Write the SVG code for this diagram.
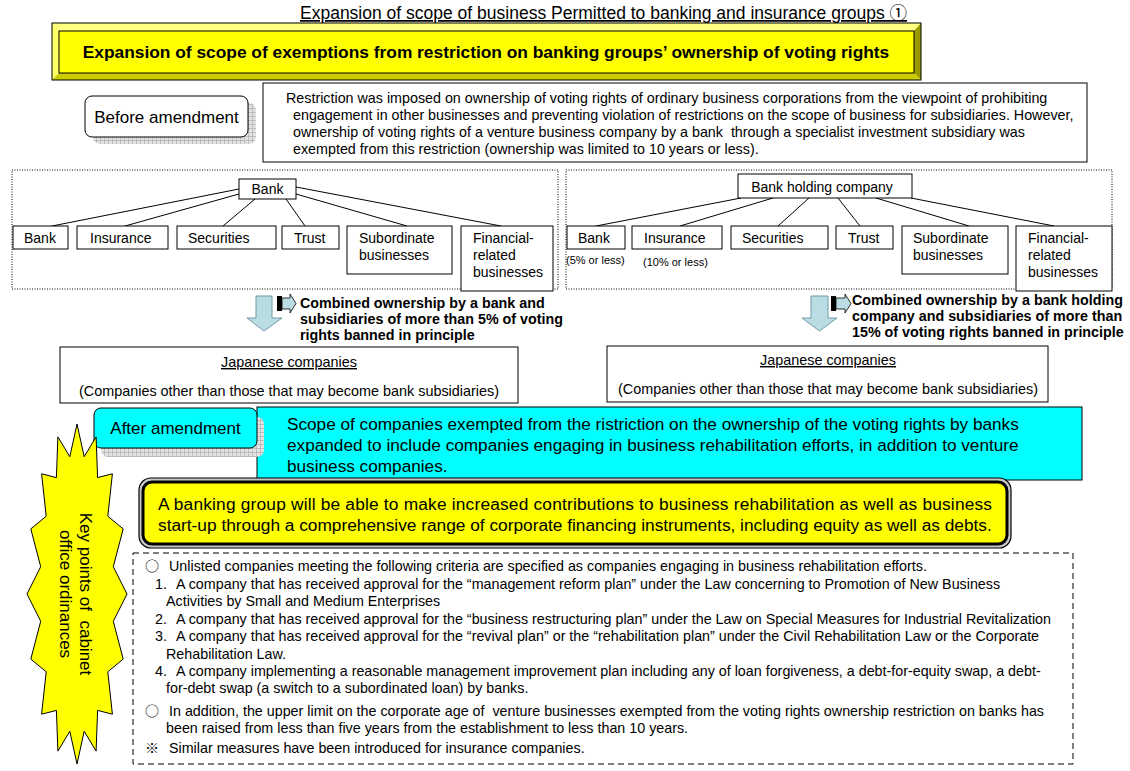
<svg xmlns="http://www.w3.org/2000/svg" width="1130" height="771" viewBox="0 0 1130 771">
<defs>
<style>
.t{font-family:"Liberation Sans",Arial,"Noto Sans CJK JP",sans-serif;fill:#000}
.s14{font-size:14px}
.s143{font-size:14.3px}
.s17{font-size:17.2px}
.b{font-weight:bold}
.m{text-anchor:middle}
.jp{font-size:14.4px}
.sym{font-family:"Noto Sans CJK JP","DejaVu Sans",sans-serif;font-size:14px;fill:#000}
.box{fill:#fff;stroke:#000;stroke-width:1}
.dot{fill:none;stroke:#000;stroke-width:1;stroke-dasharray:1 1.5}
.dash{fill:none;stroke:#000;stroke-width:1;stroke-dasharray:6 4}
.ln{stroke:#000;stroke-width:1;fill:none}
.barrow{fill:#b9dde3;stroke:#6e9aa6;stroke-width:1}
</style>
<pattern id="grid" width="4" height="4" patternUnits="userSpaceOnUse"><rect width="4" height="4" fill="#e2e2e2"/><path d="M0 0H4M0 0V4" stroke="#8c8c8c" stroke-width="0.8"/></pattern>
</defs>
<rect width="1130" height="771" fill="#fff"/>

<g id="title">
<text class="t" font-size="17.5" x="300" y="19" text-decoration="underline">Expansion of scope of business Permitted to banking and insurance groups ①</text>
</g>

<g id="heading">
<polygon points="52,23 921,23 914,31 59,31" fill="#ffff80"/>
<polygon points="52,23 59,31 59,73 52,80" fill="#ffff66"/>
<polygon points="921,23 921,80 914,73 914,31" fill="#999900"/>
<polygon points="52,80 59,73 914,73 921,80" fill="#cccc00"/>
<rect x="59" y="31" width="855" height="42" fill="#ffff00" stroke="#000"/>
<rect x="52" y="23" width="869" height="57" fill="none" stroke="#000"/>
<text class="t b m" font-size="17.35" x="486" y="58">Expansion of scope of exemptions from restriction on banking groups’ ownership of voting rights</text>
</g>

<g id="before-label">
<rect x="93" y="103" width="163" height="41" rx="7" fill="url(#grid)"/>
<rect x="85" y="96" width="163" height="41" rx="7" class="box"/>
<text class="t m" font-size="17" x="166.5" y="123">Before amendment</text>
</g>

<g id="before-text">
<rect x="263" y="83" width="824" height="79" class="box"/>
<text class="t s143" x="286" y="103">Restriction was imposed on ownership of voting rights of ordinary business corporations from the viewpoint of prohibiting</text>
<text class="t s143" x="293" y="120">engagement in other businesses and preventing violation of restrictions on the scope of business for subsidiaries. However,</text>
<text class="t s143" x="293" y="137" xml:space="preserve">ownership of voting rights of a venture business company by a bank  through a specialist investment subsidiary was</text>
<text class="t s143" x="293" y="154">exempted from this restriction (ownership was limited to 10 years or less).</text>
</g>

<g id="connectors">
<path class="ln" d="M239,189 L52,226 M239,194 L125,226 M255,199 L223,226 M286,199 L305,226 M296,194 L407,226 M296,187 L501,226"/>
<path class="ln" d="M741,198 L596,226 M773,198 L680,226 M809,198 L778,226 M838,198 L860,226 M876,198 L969,226 M911,198 L1054,226"/>
<polygon class="barrow" points="256,296 272,296 272,318 282,318 264,331 247,318 256,318"/>
<polygon class="barrow" points="811,296 828,296 828,318 837,318 819.5,331 802,318 811,318"/>
<rect x="277" y="296" width="5" height="15" fill="#000"/>
<polygon points="282,298 290,298 290,294 296,303.5 290,313 290,309 282,309" fill="#b9dde3" stroke="#000" stroke-width="0.8"/>
<rect x="831" y="296" width="5" height="15" fill="#000"/>
<polygon points="836,298 845,298 845,294 851,303.5 845,313 845,309 836,309" fill="#b9dde3" stroke="#000" stroke-width="0.8"/>
<polygon points="528,457 580,457 580,474 607,474 554,484 501,474 528,474" fill="#ffff00" stroke="#333" stroke-width="1"/>
</g>

<g id="left-group">
<rect x="12" y="170" width="546" height="119" class="dot"/>
</g>
<g id="l-root"><rect x="239" y="179" width="57" height="20" class="box"/><text class="t s14 m" x="267.5" y="194">Bank</text></g>
<g id="l-bank"><rect x="13" y="226" width="55" height="23" class="box"/><text class="t s14" x="24" y="243">Bank</text></g>
<g id="l-ins"><rect x="77" y="226" width="91" height="23" class="box"/><text class="t s14" x="90" y="243">Insurance</text></g>
<g id="l-sec"><rect x="177" y="226" width="99" height="23" class="box"/><text class="t s14" x="188" y="243">Securities</text></g>
<g id="l-trust"><rect x="282" y="226" width="57" height="23" class="box"/><text class="t s14" x="294" y="243">Trust</text></g>
<g id="l-sub"><rect x="347" y="226" width="105" height="48" class="box"/><text class="t s14" x="359" y="243">Subordinate</text><text class="t s14" x="359" y="260">businesses</text></g>
<g id="l-fin"><rect x="461" y="226" width="92" height="65" class="box"/><text class="t s14" x="473" y="243">Financial-</text><text class="t s14" x="473" y="260">related</text><text class="t s14" x="473" y="277">businesses</text></g>

<g id="right-group">
<rect x="566" y="170" width="546" height="119" class="dot"/>
</g>
<g id="r-root"><rect x="738" y="174" width="174" height="24" class="box"/><text class="t s14 m" x="822" y="192">Bank holding company</text></g>
<g id="r-bank"><rect x="567" y="226" width="58" height="23" class="box"/><text class="t s14" x="578" y="243">Bank</text><text class="t" font-size="11" x="566" y="264">(5% or less)</text></g>
<g id="r-ins"><rect x="632" y="226" width="90" height="23" class="box"/><text class="t s14" x="644" y="243">Insurance</text><text class="t" font-size="11" x="643" y="266">(10% or less)</text></g>
<g id="r-sec"><rect x="731" y="226" width="97" height="23" class="box"/><text class="t s14" x="742" y="243">Securities</text></g>
<g id="r-trust"><rect x="836" y="226" width="57" height="23" class="box"/><text class="t s14" x="848" y="243">Trust</text></g>
<g id="r-sub"><rect x="902" y="226" width="106" height="48" class="box"/><text class="t s14" x="913" y="243">Subordinate</text><text class="t s14" x="913" y="260">businesses</text></g>
<g id="r-fin"><rect x="1016" y="226" width="96" height="65" class="box"/><text class="t s14" x="1028" y="243">Financial-</text><text class="t s14" x="1028" y="260">related</text><text class="t s14" x="1028" y="277">businesses</text></g>

<g id="l-ban-note">
<text class="t s143 b" x="300" y="308">Combined ownership by a bank and</text>
<text class="t s143 b" x="300" y="324">subsidiaries of more than 5% of voting</text>
<text class="t s143 b" x="300" y="340">rights banned in principle</text>
</g>
<g id="r-ban-note">
<text class="t s143 b" x="852" y="305">Combined ownership by a bank holding</text>
<text class="t s143 b" x="852" y="321">company and subsidiaries of more than</text>
<text class="t s143 b" x="852" y="337">15% of voting rights banned in principle</text>
</g>

<g id="l-japanese">
<rect x="60" y="347" width="458" height="56" class="box"/>
<text class="t m jp" x="289" y="367" text-decoration="underline">Japanese companies</text>
<text class="t m jp" x="289" y="396">(Companies other than those that may become bank subsidiaries)</text>
</g>
<g id="r-japanese">
<rect x="607" y="346" width="441" height="56" class="box"/>
<text class="t m jp" x="828" y="365" text-decoration="underline">Japanese companies</text>
<text class="t m jp" x="828" y="394">(Companies other than those that may become bank subsidiaries)</text>
</g>

<g id="after-text">
<rect x="257" y="407" width="825" height="73" fill="#00ffff" stroke="#000"/>
<text class="t s17" x="287" y="430">Scope of companies exempted from the ristriction on the ownership of the voting rights by banks</text>
<text class="t s17" x="287" y="451">expanded to include companies engaging in business rehabilitation efforts, in addition to venture</text>
<text class="t s17" x="287" y="472">business companies.</text>
</g>
<g id="after-label">
<rect x="101" y="417" width="163" height="40" rx="7" fill="url(#grid)"/>
<rect x="94" y="408" width="163" height="40" rx="7" fill="#00ffff" stroke="#000"/>
<text class="t m" font-size="17" x="175.5" y="434">After amendment</text>
</g>

<g id="result">
<rect x="139" y="478" width="872" height="70" rx="12" fill="#c8c8c8" stroke="#000" stroke-width="1.2"/>
<rect x="143" y="482" width="864" height="62" rx="9" fill="#ffff00" stroke="#000" stroke-width="3"/>
<text class="t" font-size="17.3" x="158" y="510" textLength="834" lengthAdjust="spacing">A banking group will be able to make increased contributions to business rehabilitation as well as business</text>
<text class="t" font-size="17.3" x="158" y="531">start-up through a comprehensive range of corporate financing instruments, including equity as well as debts.</text>
</g>

<g id="key-points">
<polygon points="77,424 84.2,456.7 96.1,436.9 97.6,477.6 112.4,473.8 107.8,516.2 123.2,528.9 113.3,566.7 127,594 113.3,621.3 123.2,659.1 107.8,671.8 112.4,714.2 97.6,710.4 96.1,751.1 84.2,731.3 77,764 69.8,731.3 57.9,751.1 56.4,710.4 41.6,714.2 46.2,671.8 30.8,659.1 40.7,621.3 27,594 40.7,566.7 30.8,528.9 46.2,516.2 41.6,473.8 56.4,477.6 57.9,436.9 69.8,456.7" fill="#ffff00" stroke="#000"/>
<g transform="translate(77,594) rotate(90)">
<text class="t m" font-size="17" x="0" y="-2.5" xml:space="preserve">Key points of  cabinet</text>
<text class="t m" font-size="17" x="0" y="17.5">office ordinances</text>
</g>
</g>

<g id="details">
<rect x="133" y="553" width="940" height="211" class="dash"/>
<text class="sym" x="145" y="571">○</text><text class="t s143" x="169" y="571">Unlisted companies meeting the following criteria are specified as companies engaging in business rehabilitation efforts.</text>
<text class="t s143" x="155" y="589">1.</text><text class="t s143" x="176" y="589">A company that has received approval for the “management reform plan” under the Law concerning to Promotion of New Business</text>
<text class="t s143" x="166" y="606">Activities by Small and Medium Enterprises</text>
<text class="t s143" x="155" y="624">2.</text><text class="t s143" x="176" y="624">A company that has received approval for the “business restructuring plan” under the Law on Special Measures for Industrial Revitalization</text>
<text class="t s143" x="155" y="641">3.</text><text class="t s143" x="176" y="641">A company that has received approval for the “revival plan” or the “rehabilitation plan” under the Civil Rehabilitation Law or the Corporate</text>
<text class="t s143" x="166" y="659">Rehabilitation Law.</text>
<text class="t s143" x="155" y="676">4.</text><text class="t s143" x="176" y="676">A company implementing a reasonable management improvement plan including any of loan forgiveness, a debt-for-equity swap, a debt-</text>
<text class="t s143" x="166" y="693">for-debt swap (a switch to a subordinated loan) by banks.</text>
<text class="sym" x="145" y="716">○</text><text class="t s143" x="169" y="716" xml:space="preserve">In addition, the upper limit on the corporate age of  venture businesses exempted from the voting rights ownership restriction on banks has</text>
<text class="t s143" x="166" y="733">been raised from less than five years from the establishment to less than 10 years.</text>
<text class="sym" x="145" y="753">※</text><text class="t s143" x="169" y="753">Similar measures have been introduced for insurance companies.</text>
</g>
</svg>
